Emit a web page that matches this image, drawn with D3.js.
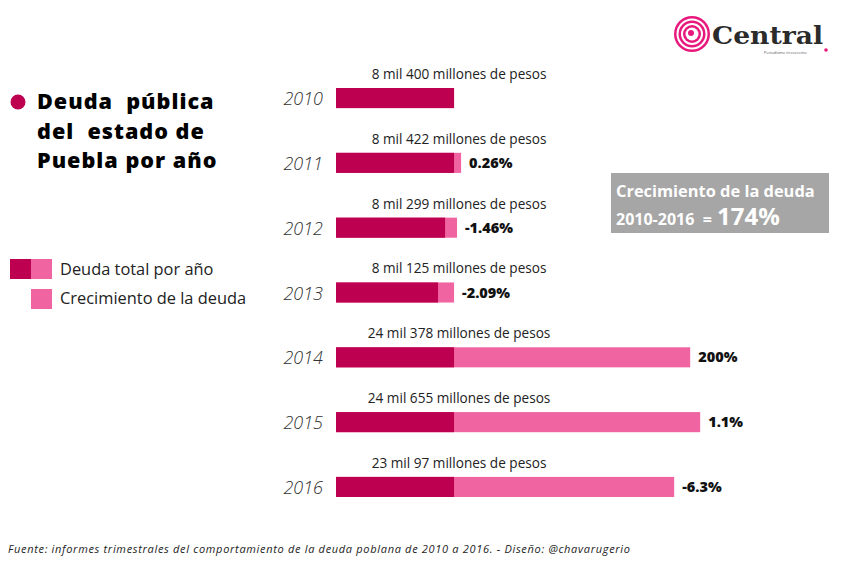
<!DOCTYPE html>
<html>
<head>
<meta charset="utf-8">
<script src="https://cdn.jsdelivr.net/npm/d3@7"></script>
<style>
  body { margin: 0; background: #fff; }
</style>
</head>
<body>
<div id="chart"></div>
<script>
// datos
const years = ["2010", "2011", "2012", "2013", "2014", "2015", "2016"];
const debtLabels = [
    "8 mil 400 millones de pesos",
    "8 mil 422 millones de pesos",
    "8 mil 299 millones de pesos",
    "8 mil 125 millones de pesos",
    "24 mil 378 millones de pesos",
    "24 mil 655 millones de pesos",
    "23 mil 97 millones de pesos"
];
// largo de barra (millones de pesos aprox.)
const baseBar = [8400, 8400, 7760, 7260, 8400, 8400, 8400];
const totalBar = [8400, 8900, 8610, 8400, 25200, 25910, 24060];
const growthLabels = ["", "0.26%", "-1.46%", "-2.09%", "200%", "1.1%", "-6.3%"];

const width = 848, height = 565;
const dark = "#bd0050", pink = "#f065a1";
const font = "'Open Sans', sans-serif";

const data = years.map((y, i) => ({
    year: y, label: debtLabels[i], base: baseBar[i], total: totalBar[i], growth: growthLabels[i]
}));

const svg = d3.select("#chart").append("svg")
    .attr("width", width)
    .attr("height", height)
    .style("font-family", font);

const x = d3.scaleLinear()
    .domain([0, 36000])
    .range([336, 842]);

const y = d3.scaleBand()
    .domain(years)
    .range([88, 497])
    .paddingInner(0.69)
    .paddingOuter(0);

// barras rosa (total)
svg.selectAll(".total")
    .data(data)
    .enter()
    .append("rect")
    .attr("x", x(0))
    .attr("y", d => y(d.year))
    .attr("width", d => x(d.total) - x(0))
    .attr("height", y.bandwidth())
    .attr("fill", pink);

// barras oscuras
svg.selectAll(".base")
    .data(data)
    .enter()
    .append("rect")
    .attr("x", x(0))
    .attr("y", d => y(d.year))
    .attr("width", d => x(d.base) - x(0))
    .attr("height", y.bandwidth())
    .attr("fill", dark);

// años
svg.selectAll(".year")
    .data(data)
    .enter()
    .append("text")
    .attr("x", 323)
    .attr("y", d => y(d.year) + y.bandwidth() / 2 + 7)
    .attr("text-anchor", "end")
    .attr("font-size", "18px")
    .attr("font-style", "italic")
    .attr("font-weight", 300)
    .attr("fill", "#333")
    .text(d => d.year);

// etiquetas de monto
svg.selectAll(".amount")
    .data(data)
    .enter()
    .append("text")
    .attr("x", x(8400) + 5)
    .attr("y", d => y(d.year) - 9)
    .attr("text-anchor", "middle")
    .attr("font-size", "13.6px")
    .attr("fill", "#222")
    .text(d => d.label);

// porcentajes
svg.selectAll(".growth")
    .data(data)
    .enter()
    .append("text")
    .attr("x", d => x(d.total) + 8)
    .attr("y", d => y(d.year) + y.bandwidth() / 2 + 5)
    .attr("font-size", "14.5px")
    .attr("font-weight", 800)
    .attr("fill", "#111")
    .text(d => d.growth);

// titulo
svg.append("circle")
    .attr("cx", 18).attr("cy", 102).attr("r", 7.5)
    .attr("fill", dark);

["Deuda  pública", "del  estado de", "Puebla por año"].forEach((t, i) => {
    svg.append("text")
        .attr("x", 37)
        .attr("y", 109 + i * 29.5)
        .attr("font-size", "21.6px")
        .attr("font-weight", 800)
        .attr("letter-spacing", "1px")
        .attr("fill", "#000")
        .style("white-space", "pre")
        .text(t);
});

// leyenda
svg.append("rect").attr("x", 10).attr("y", 259).attr("width", 21).attr("height", 20).attr("fill", dark);
svg.append("rect").attr("x", 31).attr("y", 259).attr("width", 21).attr("height", 20).attr("fill", pink);
svg.append("rect").attr("x", 31).attr("y", 289).attr("width", 21).attr("height", 20).attr("fill", pink);
svg.append("text").attr("x", 60).attr("y", 275).attr("font-size", "16.4px").attr("fill", "#222")
    .text("Deuda total por año");
svg.append("text").attr("x", 60).attr("y", 304).attr("font-size", "16.4px").attr("fill", "#222")
    .text("Crecimiento de la deuda");

// recuadro gris
svg.append("rect")
    .attr("x", 611).attr("y", 173).attr("width", 218).attr("height", 60)
    .attr("fill", "#a6a6a6");
svg.append("text")
    .attr("x", 616).attr("y", 197)
    .attr("font-size", "16.4px").attr("font-weight", "bold").attr("fill", "#fff")
    .text("Crecimiento de la deuda");
const box2 = svg.append("text")
    .attr("x", 616).attr("y", 225)
    .attr("font-weight", "bold").attr("fill", "#fff")
    .style("white-space", "pre");
box2.append("tspan").attr("font-size", "16px").text("2010-2016  = ");
box2.append("tspan").attr("x", 717).attr("font-size", "24px").text("174%");

// logo
const logo = svg.append("g").attr("transform", "translate(692,34)");
[[18, "#e8197d"], [15.5, "#fff"], [13.5, "#e8197d"], [11, "#fff"], [9, "#e8197d"], [6.5, "#fff"]]
    .forEach(([r, c]) => logo.append("circle").attr("r", r).attr("fill", c));
logo.append("circle").attr("cx", -1).attr("cy", -1).attr("r", 3).attr("fill", "#e8197d");
svg.append("text")
    .attr("x", 712).attr("y", 44)
    .style("font-family", "'DejaVu Serif', serif")
    .attr("font-size", "25px")
    .attr("font-weight", "bold")
    .attr("fill", "#2b2b2b")
    .attr("textLength", 111)
    .attr("lengthAdjust", "spacingAndGlyphs")
    .text("Central");
svg.append("text")
    .attr("x", 764).attr("y", 54)
    .attr("font-size", "4px")
    .attr("fill", "#555")
    .text("Periodismo irreverente");
svg.append("circle").attr("cx", 826).attr("cy", 50).attr("r", 1.8).attr("fill", "#e8197d");

// fuente
svg.append("text")
    .attr("x", 8).attr("y", 553)
    .attr("font-size", "11px")
    .attr("font-style", "italic")
    .attr("fill", "#222")
    .attr("textLength", 622)
    .attr("lengthAdjust", "spacing")
    .text("Fuente: informes trimestrales del comportamiento de la deuda poblana de 2010  a  2016. - Diseño: @chavarugerio");
</script>
</body>
</html>
